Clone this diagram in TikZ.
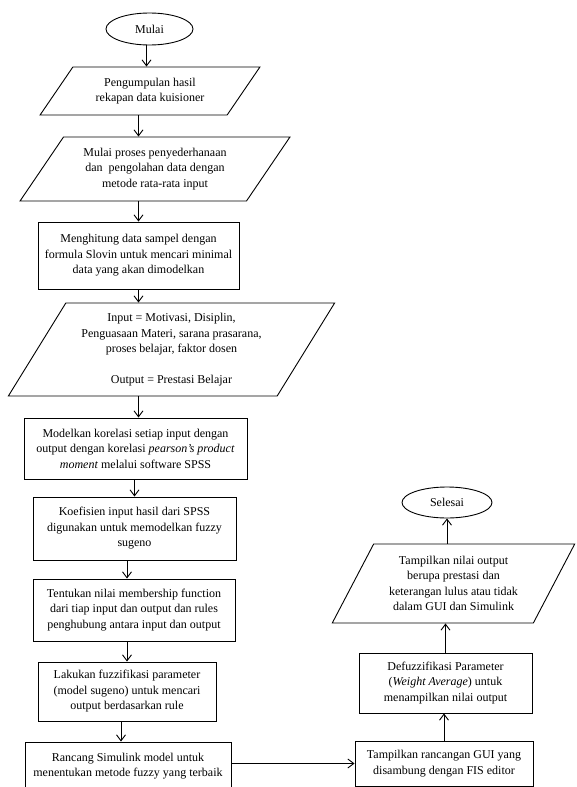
\documentclass[tikz,border=0pt]{standalone}
\usepackage{fontspec}
\setmainfont{Liberation Serif}
\usetikzlibrary{shapes.geometric,arrows.meta}
\begin{document}
\begin{tikzpicture}[x=1pt,y=-1pt,
  every node/.style={font=\fontsize{12}{15.5}\selectfont, align=center, inner sep=0pt, line width=0.9pt},
  box/.style={draw, rectangle},
  term/.style={draw, ellipse},
  io/.style={draw, trapezium, trapezium stretches=true},
  arr/.style={draw, line width=0.9pt, -{Straight Barb[length=6pt,width=9pt,line width=0.9pt]}}
]
\useasboundingbox[fill=white] (0,0) rectangle (576,787);

\node[term, minimum width=87pt, minimum height=32pt] (mulai) at (149.5,29) {Mulai};
\node[io, minimum width=220pt, minimum height=48pt, trapezium left angle=48.8, trapezium right angle=131.2] (p1) at (150,91)
  {Pengumpulan hasil\\rekapan data kuisioner};
\node[io, minimum width=270pt, minimum height=64pt, trapezium left angle=50.9, trapezium right angle=129.1] (p2) at (155,169)
  {Mulai proses penyederhanaan\\dan \ pengolahan data dengan\\metode rata-rata input};
\node[box, minimum width=201pt, minimum height=67pt] (r3) at (138.5,255.5)
  {Menghitung data sampel dengan\\formula Slovin untuk mencari minimal\\data yang akan dimodelkan};
\node[io, minimum width=327pt, minimum height=93pt, trapezium left angle=55.9, trapezium right angle=124.1] (p4) at (171.5,349.5)
  {Input = Motivasi, Disiplin,\\Penguasaan Materi, sarana prasarana,\\proses belajar, faktor dosen\\[15pt]Output = Prestasi Belajar};
\node[box, minimum width=223pt, minimum height=61pt] (r5) at (135.5,448.5)
  {Modelkan korelasi setiap input dengan\\output dengan korelasi \textit{pearson's product}\\\textit{moment} melalui software SPSS};
\node[box, minimum width=203pt, minimum height=63pt] (r6) at (134.5,528.5)
  {Koefisien input hasil dari SPSS\\digunakan untuk memodelkan fuzzy\\sugeno};
\node[box, minimum width=202pt, minimum height=62pt] (r7) at (134,610)
  {Tentukan nilai membership function\\dari tiap input dan output dan rules\\penghubung antara input dan output};
\node[box, minimum width=178pt, minimum height=59pt] (r8) at (127,691.5)
  {Lakukan fuzzifikasi parameter\\(model sugeno) untuk mencari\\output berdasarkan rule};
\node[box, minimum width=206pt, minimum height=48pt] (r9) at (128,766)
  {Rancang Simulink model untuk\\menentukan metode fuzzy yang terbaik};
\node[box, minimum width=178pt, minimum height=45pt] (r10) at (444,763.5)
  {Tampilkan rancangan GUI yang\\disambung dengan FIS editor};
\node[box, minimum width=173pt, minimum height=60pt] (r11) at (445.5,683)
  {Defuzzifikasi Parameter\\(\textit{Weight Average}) untuk\\menampilkan nilai output};
\node[io, minimum width=243pt, minimum height=79pt, trapezium left angle=58.7, trapezium right angle=121.3] (p12) at (453.5,583.5)
  {Tampilkan nilai output\\berupa prestasi dan\\keterangan lulus atau tidak\\dalam GUI dan Simulink};
\node[term, minimum width=90pt, minimum height=31pt] (selesai) at (447,502.5) {Selesai};

\draw[arr] ([xshift=-3pt]mulai.south) -- ([xshift=-3pt]mulai.south |- p1.north);
\draw[arr] (p1.south -| r3.north) -- (p2.north -| r3.north);
\draw[arr] (p2.south -| r3.north) -- (r3.north);
\draw[arr] (r3.south) -- (r3.south |- p4.north);
\draw[arr] (p4.south -| r3.south) -- (r5.north -| r3.south);
\draw[arr] (r5.south -| r6.north) -- (r6.north);
\draw[arr] (r6.south -| r8.north) -- (r7.north -| r8.north);
\draw[arr] (r7.south -| r8.north) -- (r8.north);
\draw[arr] ([xshift=-6pt]r8.south) -- ([xshift=-6pt]r8.south |- r9.north);
\draw[arr] (r9.east |- r10.west) -- (r10.west);
\draw[arr] (r10.north) -- (r10.north |- r11.south);
\draw[arr] (r11.north) -- (r11.north |- p12.south);
\draw[arr] (p12.north -| selesai.south) -- (selesai.south);
\end{tikzpicture}
\end{document}
